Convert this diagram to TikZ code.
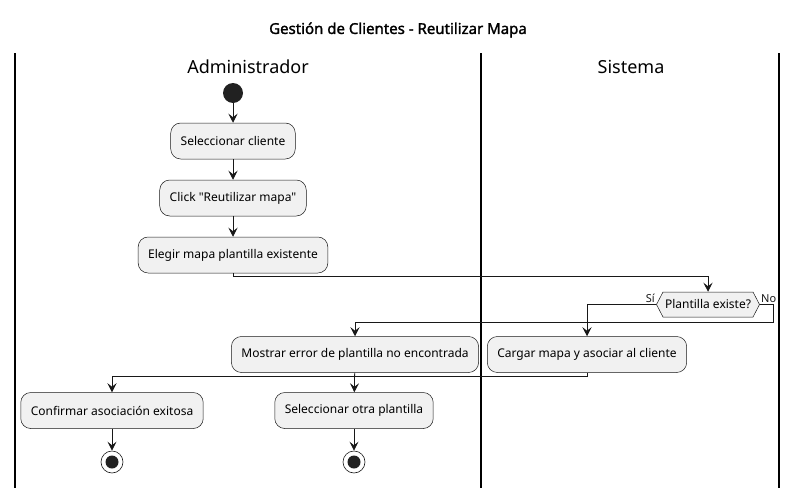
\documentclass[tikz,border=0pt]{standalone}
\usepackage{fontspec}
\setmainfont{Noto Sans}[Ligatures=TeXOff]
\newfontfamily\titlefont{Noto Sans}[FakeBold=1.6]
\usetikzlibrary{arrows.meta,shapes.symbols}
\definecolor{actfill}{HTML}{F1F1F1}
\definecolor{actline}{HTML}{181818}
\begin{document}
\begin{tikzpicture}[x=1pt,y=-1pt,
  act/.style={draw=actline,fill=actfill,line width=0.5pt,rounded corners=10pt,minimum height=36pt,inner xsep=10pt,font=\fontsize{12}{14}\selectfont},
  cond/.style={signal,signal to=east and west,signal pointer angle=125,draw=actline,fill=actfill,line width=0.5pt,minimum width=103pt,minimum height=25pt,inner xsep=2pt,inner ysep=0pt,font=\fontsize{12}{14}\selectfont},
  start/.style={circle,fill=black!87,minimum size=20pt,inner sep=0pt},
  fin/.style={circle,draw=actline,fill=white,line width=0.6pt,minimum size=22pt,inner sep=0pt,path picture={\fill[black!87] (path picture bounding box.center) circle (6.5pt);}},
  flow/.style={-{Stealth[length=9pt,width=9pt,inset=3.5pt]},line width=0.8pt,color=actline},
  lane/.style={line width=1.3pt},
  branch/.style={font=\fontsize{11}{13}\selectfont,inner sep=1pt}]
\useasboundingbox (0,0) rectangle (798,498);
% title and swimlanes
\node[font=\fontsize{15}{17}\titlefont] (title) at (398,30) {Gestión de Clientes - Reutilizar Mapa};
\draw[lane] (15,53) -- (15,488);
\draw[lane] (481,53) -- (481,488);
\draw[lane] (779,53) -- (779,488);
\node[font=\fontsize{18}{22}\selectfont] (admin) at (248,67) {Administrador};
\node[font=\fontsize{18}{22}\selectfont] (sist) at (631,67) {Sistema};
% activities
\node[start] (ini) at (233,93) {};
\node[act] (sel) at (233,141) {Seleccionar cliente};
\node[act] (click) at (233,198) {Click "Reutilizar mapa"};
\node[act] (elegir) at (233,255) {Elegir mapa plantilla existente};
\node[cond] (dec) at (708,304.5) {Plantilla existe?};
\node[act] (mostrar) at (355,354.5) {Mostrar error de plantilla no encontrada};
\node[act] (cargar) at (587,354.5) {Cargar mapa y asociar al cliente};
\node[act] (conf) at (112,410.5) {Confirmar asociación exitosa};
\node[act] (otra) at (354,410.5) {Seleccionar otra plantilla};
\node[fin] (fin1) at (112,462) {};
\node[fin] (fin2) at (354,462) {};
% flow
\draw[flow] (ini) -- (sel);
\draw[flow] (sel) -- (click);
\draw[flow] (click) -- (elegir);
\draw[flow] (elegir.south) -- ++(0,3) -| (dec.north);
\draw[flow] (dec.west) node[branch,above left] {Sí} -| (cargar.north);
\draw[flow] (dec.east) node[branch,above right] {No} -- ++(14,0) -- ++(0,17.5) -| (mostrar.north);
\draw[flow] (cargar.south) -- ++(0,4) -| (conf.north);
\draw[flow] (mostrar) -- (otra);
\draw[flow] (conf) -- (fin1);
\draw[flow] (otra) -- (fin2);
\end{tikzpicture}
\end{document}
